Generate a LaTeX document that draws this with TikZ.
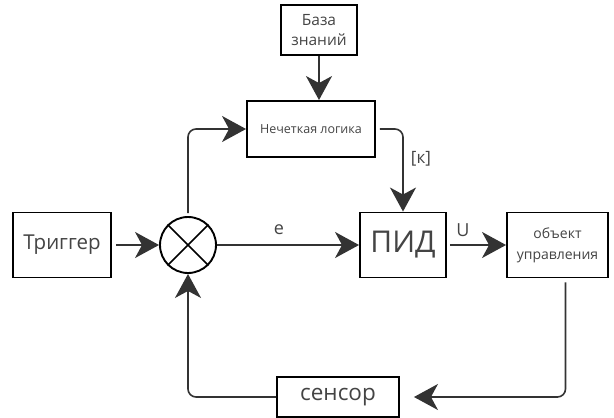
\documentclass[tikz,border=0pt]{standalone}
\usepackage{fontspec}
\setmainfont{Open Sans}
\usetikzlibrary{arrows.meta}
\definecolor{ink}{HTML}{333333}
\definecolor{txt}{HTML}{444444}
\tikzset{
  blk/.style={draw=black, line width=1.9pt, fill=white, text=txt, align=center, inner sep=0pt},
  wire/.style={draw=ink, line width=1.6pt, rounded corners=8pt},
  flow/.style={wire, -{Stealth[length=24pt, width=26pt, inset=7pt]}},
  lbl/.style={text=txt, inner sep=0pt}
}
\begin{document}
\begin{tikzpicture}[x=1pt, y=-1pt]
\useasboundingbox (0,0) rectangle (614,418);
% blocks
\node[blk, minimum width=76pt, minimum height=50pt, font=\fontsize{15.5}{20}\selectfont] (kb) at (319,30) {База\\знаний};
\node[blk, minimum width=128pt, minimum height=56pt, font=\fontsize{12.5}{14}\selectfont] (fz) at (311,129) {Нечеткая логика};
\node[blk, minimum width=98pt, minimum height=65pt, font=\fontsize{20.5}{24}\selectfont] (tr) at (62,245) {Триггер};
\node[draw=black, line width=1.9pt, circle, minimum size=56pt, inner sep=0pt] (sum) at (188,245) {};
\draw[black, line width=1.6pt] (sum.north west) -- (sum.south east) (sum.north east) -- (sum.south west);
\node[blk, minimum width=86pt, minimum height=65pt, font=\fontsize{30}{34}\selectfont] (pid) at (403,245) {ПИД};
\node[blk, minimum width=101pt, minimum height=65pt, font=\fontsize{14}{21}\selectfont] (obj) at (557.5,245) {объект\\управления};
\node[blk, minimum width=122pt, minimum height=40pt, font=\fontsize{22.5}{26}\selectfont] (sen) at (338,397) {сенсор};
% signal paths
\draw[flow] (kb.south) -- (kb.south |- fz.north);
\draw[flow] (tr.east) ++(4,0) coordinate (trout) -- (sum.west);
\draw[flow] (sum.north) ++(0,-3) coordinate (sumtop) |- (fz.west);
\draw[flow] (fz.east) ++(4,0) coordinate (fzout) -| (pid.north);
\draw[flow] (sum.east) -- (pid.west);
\draw[flow] (pid.east) ++(3,0) coordinate (pidout) -- (obj.west);
\draw[flow] (obj.south) ++(8,4) coordinate (objout) |- ([xshift=14pt]sen.east);
\draw[flow] (sen.west) -| (sum.south);
% labels
\node[lbl, font=\fontsize{18}{20}\selectfont] (le) at (279,230) {e};
\node[lbl, font=\fontsize{18}{20}\selectfont] (lu) at (463,230) {U};
\node[lbl, font=\fontsize{17}{20}\selectfont] (lk) at (421,159) {[к]};
\end{tikzpicture}
\end{document}
